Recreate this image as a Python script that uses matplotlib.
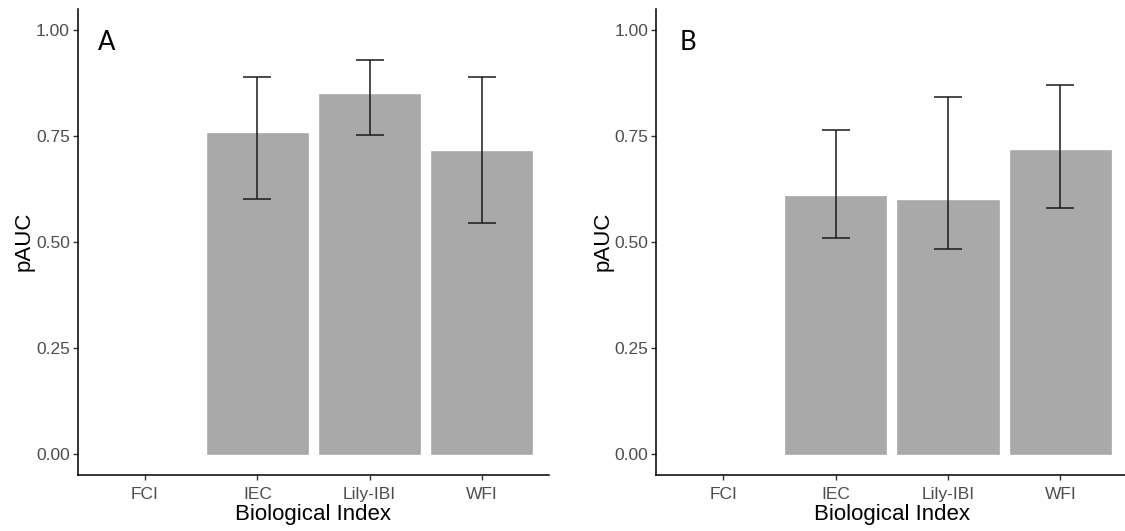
import numpy as np
import matplotlib
matplotlib.use("Agg")
import matplotlib.pyplot as plt

plt.rcParams["font.family"] = ["Liberation Sans", "DejaVu Sans"]

categories = ["FCI", "IEC", "Lily-IBI", "WFI"]

# panel A
pauc_a = [np.nan, 0.757, 0.849, 0.714]
low_a = [np.nan, 0.600, 0.753, 0.544]
high_a = [np.nan, 0.888, 0.930, 0.888]

# panel B
pauc_b = [np.nan, 0.608, 0.598, 0.717]
low_b = [np.nan, 0.509, 0.484, 0.580]
high_b = [np.nan, 0.764, 0.842, 0.869]

yticks = [0.0, 0.25, 0.5, 0.75, 1.0]
ytick_labels = ["0.00", "0.25", "0.50", "0.75", "1.00"]

fig = plt.figure(figsize=(11.25, 5.31), dpi=100)
ax_a = fig.add_axes([0.0690, 0.106, 0.4193, 0.8774])
ax_b = fig.add_axes([0.5831, 0.106, 0.4193, 0.8774])


def draw_panel(ax, vals, lo, hi, tag, tag_x):
    x = np.arange(1, len(categories) + 1)
    vals = np.array(vals)
    yerr = np.array([vals - np.array(lo), np.array(hi) - vals])
    ax.bar(x, vals, width=0.9, color="#a9a9a9", edgecolor="#b3b3b3", linewidth=0.6, zorder=2)
    ax.errorbar(x, vals, yerr=yerr, fmt="none", ecolor="#1a1a1a",
                elinewidth=1.1, capsize=10.4, capthick=1.1, zorder=3)

    ax.set_xlim(0.4, 4.6)
    ax.set_ylim(-0.05, 1.05)
    ax.set_xticks(x)
    ax.set_xticklabels(categories)
    ax.set_yticks(yticks)
    ax.set_yticklabels(ytick_labels)

    for s in ["top", "right"]:
        ax.spines[s].set_visible(False)
    for s in ["left", "bottom"]:
        ax.spines[s].set_linewidth(1.1)
        ax.spines[s].set_color("black")

    ax.tick_params(axis="both", length=3.5, width=1.0, color="#333333",
                   labelcolor="#4d4d4d", labelsize=12.5)
    ax.tick_params(axis="x", pad=5)
    ax.tick_params(axis="y", pad=2)
    ax.set_xlabel("Biological Index", fontsize=16, labelpad=2, color="black")
    ax.set_ylabel("pAUC", fontsize=16, labelpad=1, color="black")

    ax.text(tag_x, 0.953, tag, transform=ax.get_yaxis_transform(),
            fontsize=18.5, family=["Lato", "DejaVu Sans"], va="baseline", ha="left")


draw_panel(ax_a, pauc_a, low_a, high_a, "A", 0.043)
draw_panel(ax_b, pauc_b, low_b, high_b, "B", 0.051)

fig.savefig("out.png", dpi=100)
